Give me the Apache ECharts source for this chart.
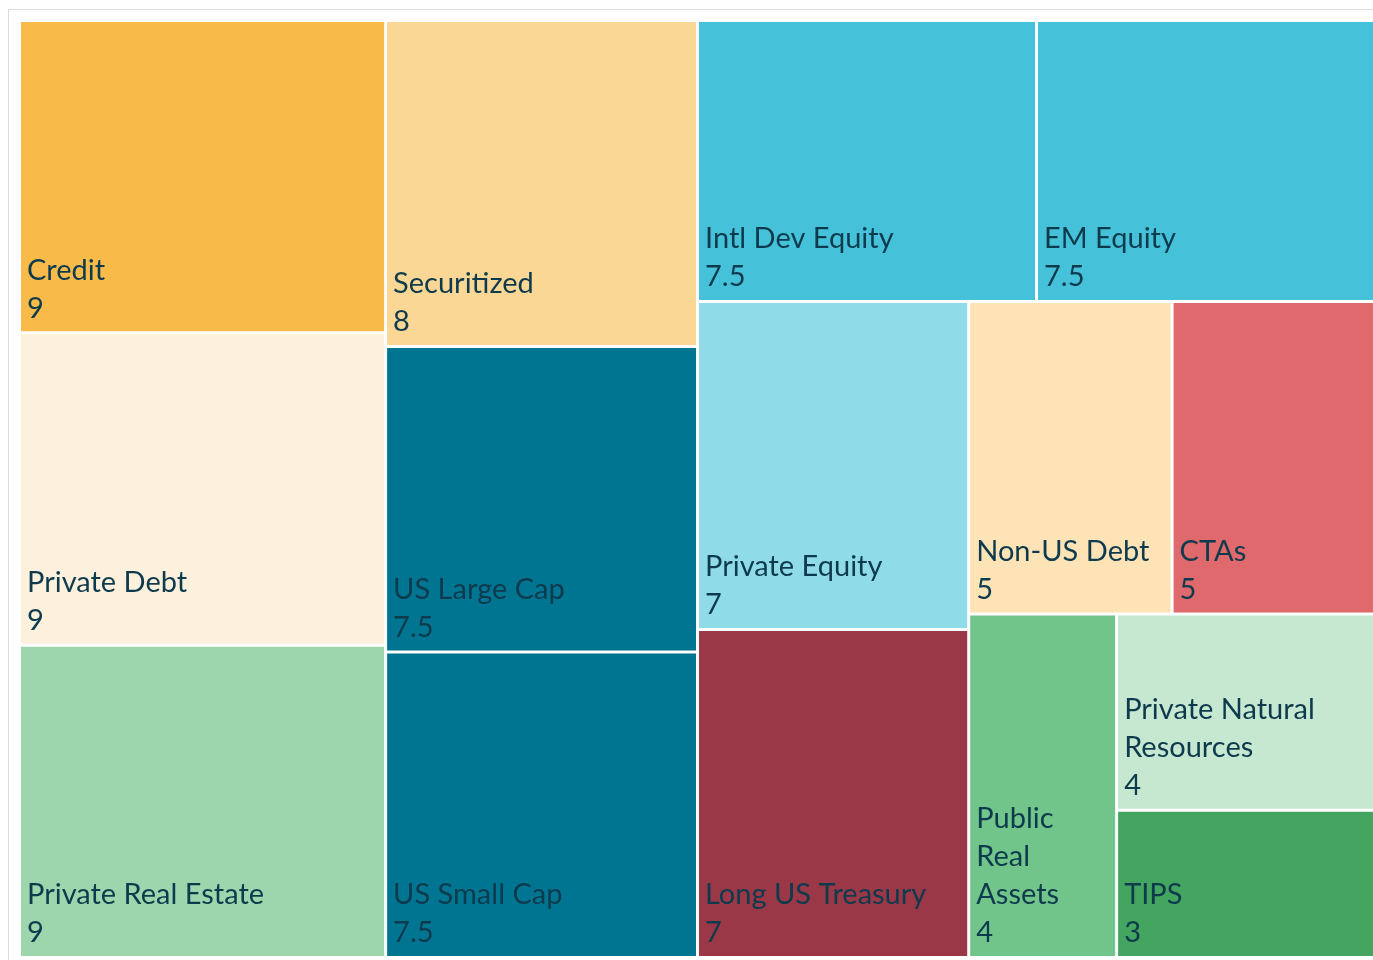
<!DOCTYPE html>
<html>
<head>
    <meta charset="utf-8">
    <title>Asset class treemap</title>
    <script src="https://cdn.jsdelivr.net/npm/echarts@6/dist/echarts.min.js"></script>
    <style>
        html, body {
            margin: 0;
            padding: 0;
            width: 100%;
            height: 100%;
            overflow: hidden;
            background: #fff;
        }
        #chart {
            position: absolute;
            left: 8px;
            top: 9px;
            width: 1365px;
            height: 951px;
            border-left: 1px solid #dcdcdc;
            border-top: 1px solid #dcdcdc;
        }
    </style>
</head>
<body>
    <div id="chart"></div>
    <script>
        // categories and values (already in the order the tiles are laid out)
        const assetNames = [
            'Credit', 'Private Debt', 'Private Real Estate',
            'Securitized', 'US Large Cap', 'US Small Cap',
            'Intl Dev Equity', 'EM Equity',
            'Private Equity', 'Long US Treasury',
            'Non-US Debt', 'CTAs',
            'Public Real Assets', 'Private Natural Resources', 'TIPS'
        ];
        const assetValues = [9, 9, 9, 8, 7.5, 7.5, 7.5, 7.5, 7, 7, 5, 5, 4, 4, 3];

        // tile colours, same order as names
        const tileColors = [
            '#F8BB4A', '#FDF0DC', '#9DD6AD',
            '#FAD794', '#007592', '#007592',
            '#45C2D9', '#45C2D9',
            '#8FDBE8', '#9A3848',
            '#FEE3B6', '#E0696E',
            '#71C48A', '#C6E7D0', '#43A55F'
        ];

        const chart = echarts.init(document.getElementById('chart'), null, { renderer: 'canvas' });

        const treeData = assetNames.map((name, i) => ({
            name: name,
            value: assetValues[i],
            itemStyle: { color: tileColors[i] }
        }));

        chart.setOption({
            animation: false,
            series: [{
                type: 'treemap',
                left: 12,
                top: 12,
                right: 0,
                bottom: 5,
                roam: false,
                nodeClick: false,
                breadcrumb: { show: false },
                sort: false,
                // a bit under 1 so the last three tiles split like the original
                squareRatio: 0.82,
                data: treeData,
                levels: [{
                    itemStyle: {
                        borderWidth: 0,
                        gapWidth: 3,
                        borderColor: '#fff'
                    }
                }],
                label: {
                    show: true,
                    position: 'insideBottomLeft',
                    overflow: 'break',
                    color: '#0d3a4c',
                    fontFamily: 'Lato, "Open Sans", sans-serif',
                    fontSize: 29,
                    lineHeight: 38,
                    padding: [0, 6, 4, 6],
                    formatter: (p) => p.name + '\n' + p.value
                }
            }]
        });
    </script>
</body>
</html>
